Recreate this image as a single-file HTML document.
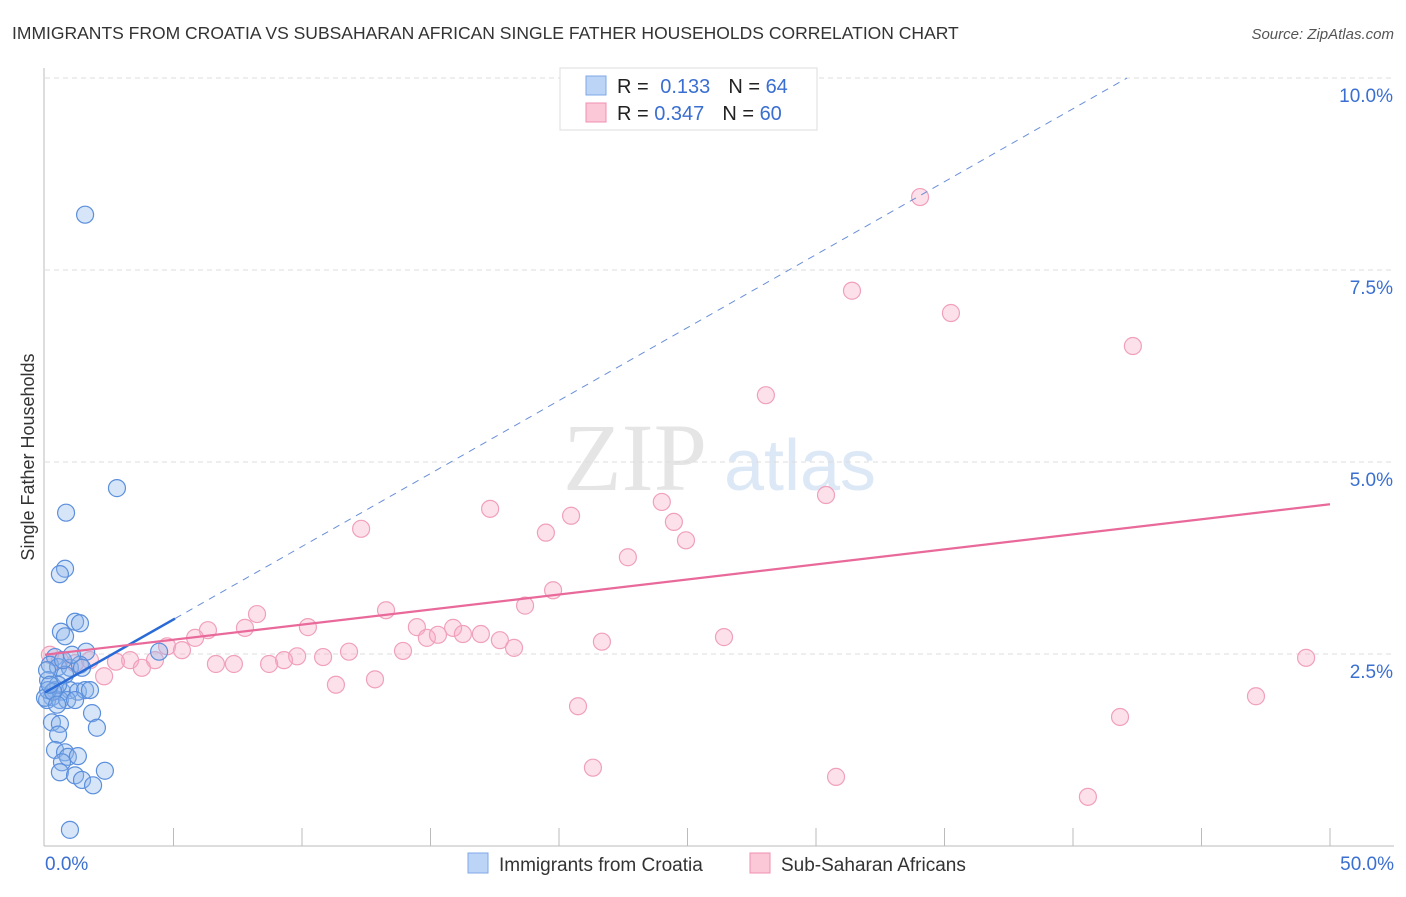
<!DOCTYPE html>
<html><head><meta charset="utf-8"><style>
body{margin:0;background:#fff;width:1406px;height:892px;overflow:hidden;font-family:"Liberation Sans",sans-serif}
</style></head><body>
<svg id="chart" width="1406" height="892" xmlns="http://www.w3.org/2000/svg" font-family="Liberation Sans, sans-serif">
<text x="12" y="39" font-size="17.5" fill="#333">IMMIGRANTS FROM CROATIA VS SUBSAHARAN AFRICAN SINGLE FATHER HOUSEHOLDS CORRELATION CHART</text>
<text x="1394" y="39" font-size="15" fill="#555" text-anchor="end" font-style="italic">Source: ZipAtlas.com</text>
<text transform="translate(34,457) rotate(-90)" font-size="18" fill="#333" text-anchor="middle">Single Father Households</text>
<g opacity="0.25"><text x="635" y="490" font-size="96" font-family="Liberation Serif, serif" fill="#999" text-anchor="middle">ZIP</text><text x="800" y="490" font-size="72" fill="#7aa6dd" text-anchor="middle">atlas</text></g>
<g id="grid"></g><g id="axes"></g><g id="marks"></g>
<g>
<rect x="560" y="68" width="257" height="62" fill="#fff" stroke="#ddd"/>
<rect x="586" y="76" width="20" height="19" fill="#bcd4f5" stroke="#7ea8e6"/>
<rect x="586" y="103" width="20" height="19" fill="#fbc8d8" stroke="#ef8fb0"/>
<text x="617" y="93" font-size="20" fill="#222">R = <tspan fill="#3a6fd1" dx="6">0.133</tspan><tspan dx="18" fill="#222">N = </tspan><tspan fill="#3a6fd1">64</tspan></text>
<text x="617" y="120" font-size="20" fill="#222">R = <tspan fill="#3a6fd1">0.347</tspan><tspan dx="18" fill="#222">N = </tspan><tspan fill="#3a6fd1">60</tspan></text>
</g>
<g>
<rect x="468" y="853" width="20" height="20" fill="#bcd4f5" stroke="#7ea8e6"/>
<text x="499" y="871" font-size="19" fill="#333">Immigrants from Croatia</text>
<rect x="750" y="853" width="20" height="20" fill="#fbc8d8" stroke="#ef8fb0"/>
<text x="781" y="871" font-size="19" fill="#333">Sub-Saharan Africans</text>
</g>
</svg>
<script>
const yTicks=[2.5,5.0,7.5,10.0];
const yTickLabels=["2.5%","5.0%","7.5%","10.0%"];
const xTickLabels=["0.0%","50.0%"];
const croatiaX=[1.56,2.80,0.82,0.78,0.58,1.17,1.36,0.62,0.78,1.60,0.39,0.19,0.51,0.97,1.36,0.12,0.39,0.66,0.97,1.28,1.56,1.75,0.27,0.08,0.58,0.78,0.51,1.83,2.02,0.27,0.58,0.51,0.39,0.78,0.89,1.28,0.66,0.58,1.17,1.44,1.87,2.33,0.97,0.12,0.0,0.86,0.70,1.05,0.08,4.44,0.31,0.47,1.44,1.17,0.19];
const croatiaY=[8.22,4.66,4.34,3.61,3.54,2.92,2.90,2.79,2.73,2.53,2.46,2.36,2.33,2.32,2.36,2.16,2.03,2.01,2.03,2.01,2.03,2.03,1.94,1.90,1.90,2.23,2.10,1.73,1.54,1.61,1.59,1.45,1.25,1.22,1.16,1.17,1.09,0.96,0.92,0.86,0.79,0.98,0.21,2.03,1.93,1.90,2.42,2.49,2.29,2.53,2.01,1.84,2.32,1.90,2.10];
const africaX=[34.05,31.4,35.25,42.33,28.05,30.39,24.0,17.32,20.47,24.47,19.49,24.94,12.3,22.68,19.77,18.68,13.27,8.25,10.23,7.78,6.34,5.84,4.75,5.33,4.28,3.31,2.76,3.77,2.30,14.47,15.88,14.86,15.29,16.26,16.96,17.70,18.25,21.67,26.42,9.81,9.30,10.82,11.83,13.93,8.72,7.35,6.65,11.32,12.84,20.74,21.32,30.78,40.58,41.83,47.12,49.07,0.58,1.17,1.75,0.19];
const africaY=[8.45,7.23,6.94,6.51,5.87,4.57,4.48,4.39,4.30,4.22,4.08,3.98,4.13,3.76,3.33,3.13,3.07,3.02,2.85,2.84,2.81,2.71,2.60,2.55,2.42,2.42,2.40,2.32,2.21,2.85,2.84,2.71,2.75,2.76,2.76,2.68,2.58,2.66,2.72,2.47,2.42,2.46,2.53,2.54,2.37,2.37,2.37,2.10,2.17,1.82,1.02,0.90,0.64,1.68,1.95,2.45,2.42,2.38,2.42,2.49];
const croatiaTrend=[2.0,0.19];
const africaTrend=[2.49,0.0392];
const NS="http://www.w3.org/2000/svg";
const X=v=>45+v*25.7, Y=v=>846-v*76.8;
function mk(tag,parent,attrs){const e=document.createElementNS(NS,tag);for(const k in attrs)e.setAttribute(k,attrs[k]);document.getElementById(parent).appendChild(e);return e;}
yTicks.forEach((t,i)=>{
 const g=mk('line','grid',{x1:45,x2:1394,y1:Y(t),y2:Y(t),stroke:'#ddd','stroke-dasharray':'5,4'});
 
 
 const tx=mk('text','axes',{x:1393,y:Y(t)+24,'font-size':19,fill:'#3a6fd1','text-anchor':'end'});
 tx.textContent=yTickLabels[i];
 
 
});
const ax=mk('line','axes',{x1:44,x2:44,y1:68,y2:846,stroke:'#bbb'});


const bx=mk('line','axes',{x1:44,x2:1394,y1:846,y2:846,stroke:'#bbb'});


for(let i=1;i<=10;i++){
 const t=mk('line','axes',{x1:X(i*5),x2:X(i*5),y1:828,y2:846,stroke:'#bbb'});
 
 
}
[[0,'start',45],[50,'end',1394]].forEach((d,i)=>{
 const t=mk('text','axes',{x:d[2],y:870,'font-size':19,fill:'#3a6fd1','text-anchor':d[1]});
 t.textContent=xTickLabels[i];
 
 
});
africaX.forEach((x,i)=>{
 const c=mk('circle','marks',{cx:X(x),cy:Y(africaY[i]),r:8.5,fill:'rgba(248,170,195,0.35)',stroke:'#f0a0bb','stroke-width':1.2});
 
 
});
croatiaX.forEach((x,i)=>{
 const c=mk('circle','marks',{cx:X(x),cy:Y(croatiaY[i]),r:8.5,fill:'rgba(140,180,235,0.35)',stroke:'#5b8fdc','stroke-width':1.2});
 
 
});
const xEnd=(10-croatiaTrend[0])/croatiaTrend[1];
const dl=mk('line','marks',{x1:X(5.06),y1:Y(croatiaTrend[0]+croatiaTrend[1]*5.06),x2:X(xEnd),y2:Y(10),stroke:'#6a8fd8','stroke-width':1,'stroke-dasharray':'7,6'});


const bl=mk('line','marks',{x1:X(0),y1:Y(croatiaTrend[0]),x2:X(5.06),y2:Y(croatiaTrend[0]+croatiaTrend[1]*5.06),stroke:'#2a6ad6','stroke-width':2.5});


const pl=mk('line','marks',{x1:X(0),y1:Y(africaTrend[0]),x2:X(50),y2:Y(africaTrend[0]+africaTrend[1]*50),stroke:'#e8699a','stroke-width':2.2});


</script>
</body></html>
